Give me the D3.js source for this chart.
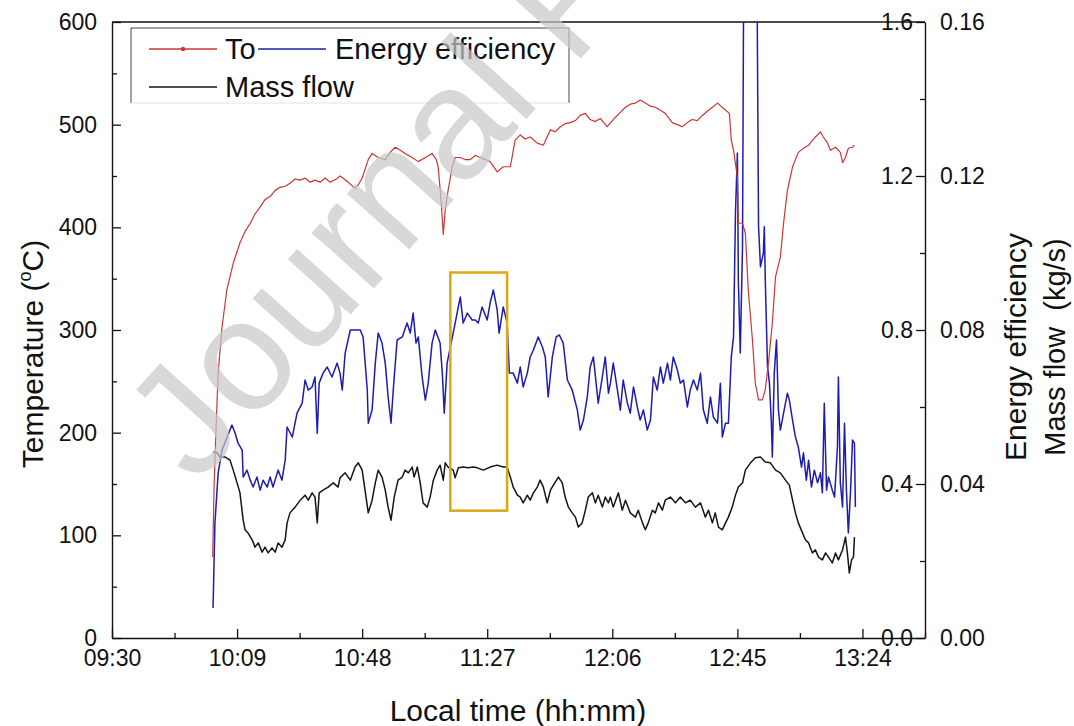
<!DOCTYPE html>
<html>
<head>
<meta charset="utf-8">
<script src="https://cdn.jsdelivr.net/npm/d3@7"></script>
<style>
  body { margin: 0; background: #fff; }
  text { font-family: "Liberation Sans", Arial, sans-serif; fill: #111; }
</style>
</head>
<body>
<svg id="chart" width="1074" height="726"></svg>
<script>
// times are minutes after 09:30
const timeTicks = ["09:30", "10:09", "10:48", "11:27", "12:06", "12:45", "13:24"];
const tempTicks = ["0", "100", "200", "300", "400", "500", "600"];
const effTicks = ["0.0", "0.4", "0.8", "1.2", "1.6"];
const massTicks = ["0.00", "0.04", "0.08", "0.12", "0.16"];

// outlet temperature To (°C)
const toTime = [31.4,31.8,32.5,33.1,34.2,35.8,37.8,39.9,41.5,43.1,
  44.6,46.2,47.7,49.3,50.9,52.4,54.0,55.5,57.1,58.7,
  60.2,61.8,63.3,64.9,66.5,68.0,70.0,71.1,72.4,73.6,
  75.8,76.9,78.0,79.9,81.1,83.0,85.2,86.7,88.3,89.9,
  91.4,93.6,95.5,97.7,99.8,101.1,101.7,102.6,103.3,103.9,
  104.8,106.1,107.0,108.6,110.1,111.7,113.3,114.8,116.4,117.9,
  120.1,122.0,124.2,125.7,127.3,128.8,130.4,132.6,134.5,136.7,
  138.2,139.8,141.3,142.9,144.5,146.0,147.6,149.1,150.7,152.3,
  154.4,156.9,158.5,160.1,161.6,163.2,164.7,166.3,167.9,169.4,
  171.0,172.5,174.7,176.3,177.8,179.4,180.9,182.5,184.1,185.6,
  187.2,188.8,190.6,192.5,193.1,193.8,195.0,195.3,196.6,197.5,
  198.4,199.7,200.6,201.6,202.8,203.7,204.7,205.9,206.9,208.4,
  209.4,210.6,212.2,214.0,215.6,217.2,219.3,220.9,221.8,223.1,
  224.0,225.6,227.1,227.8,228.7,229.6,230.9,231.5];
const toValue = [79,144,209,258,300,339,365,385,396,404,
  413,420,427,430,436,439,440,443,447,446,
  448,444,446,444,448,444,447,450,447,444,
  438,442,448,466,472,468,466,473,478,475,
  472,468,464,468,472,466,459,427,393,417,
  436,459,468,468,466,466,470,468,466,464,
  454,459,459,485,490,486,488,482,480,495,
  493,498,501,502,504,509,511,505,503,506,
  498,507,512,517,520,521,524,521,518,517,
  514,511,502,500,498,502,505,504,509,513,
  517,521,516,511,485,475,449,404,404,394,
  339,290,248,232,232,242,268,307,352,371,
  404,436,459,473,477,480,488,493,488,482,
  475,478,473,463,468,477,478,480];

// energy efficiency (-)
const effTime = [31.5,32.1,33.1,34.3,35.9,37.4,38.4,39.3,40.6,40.9,42.1,43.1,44.0,45.2,46.2,47.1,48.4,49.3,50.2,51.8,
  53.0,54.0,54.6,56.2,57.7,59.3,60.2,61.2,62.4,63.3,64.0,64.6,65.8,67.1,68.6,70.2,71.1,71.8,72.7,74.3,
  75.8,77.4,78.3,79.6,79.9,81.1,82.1,83.0,84.2,85.2,86.1,87.0,87.7,88.9,90.5,92.0,93.0,93.9,94.8,95.5,
  96.7,97.7,98.6,99.8,100.8,102.3,103.0,103.6,104.5,105.5,107.0,108.6,109.5,110.8,112.3,113.3,114.2,115.4,117.0,117.9,
  118.9,120.1,120.7,122.0,123.2,123.9,125.1,126.4,127.3,128.2,129.5,130.4,131.4,132.9,134.2,135.1,136.0,137.3,138.5,139.5,
  140.7,142.0,143.5,145.1,146.0,147.0,148.2,149.1,150.1,151.6,152.9,153.8,154.8,155.4,156.3,157.6,158.5,159.4,160.7,161.6,
  162.6,163.8,164.7,165.7,166.9,167.9,168.8,170.0,171.0,171.9,173.2,174.1,175.0,176.3,177.2,178.2,179.4,180.3,181.3,182.5,
  183.5,184.4,185.6,186.6,187.5,188.8,189.7,190.3,191.3,192.2,193.1,193.8,194.4,195.0,195.3,195.9,196.6,196.9,197.5,200.9,
  201.2,201.6,202.2,203.1,203.4,203.7,204.4,205.0,205.6,205.9,206.5,207.2,207.8,208.4,209.4,210.6,211.2,212.2,213.1,214.0,
  215.0,215.6,216.5,217.2,218.1,219.0,220.0,220.9,221.5,222.1,222.8,223.4,224.6,225.3,226.2,226.5,227.1,227.8,228.4,229.0,
  229.6,230.3,230.9,231.5,231.8];
const effValue = [0.078,0.299,0.429,0.488,0.522,0.553,0.532,0.506,0.488,0.418,0.436,0.410,0.392,0.418,0.384,0.410,0.392,0.418,0.392,0.436,
  0.410,0.462,0.548,0.522,0.584,0.610,0.670,0.644,0.652,0.678,0.532,0.662,0.688,0.704,0.678,0.714,0.688,0.644,0.740,0.800,
  0.800,0.800,0.782,0.644,0.558,0.592,0.714,0.792,0.766,0.714,0.626,0.558,0.644,0.774,0.782,0.818,0.792,0.844,0.766,0.782,
  0.678,0.618,0.662,0.766,0.800,0.766,0.688,0.584,0.714,0.756,0.818,0.886,0.818,0.844,0.826,0.826,0.818,0.860,0.826,0.870,
  0.904,0.852,0.792,0.860,0.818,0.688,0.688,0.662,0.704,0.652,0.688,0.730,0.748,0.782,0.756,0.730,0.626,0.730,0.782,0.787,
  0.766,0.670,0.644,0.592,0.540,0.566,0.626,0.704,0.730,0.610,0.678,0.730,0.636,0.662,0.714,0.644,0.592,0.670,0.610,0.584,
  0.652,0.600,0.566,0.592,0.540,0.566,0.678,0.644,0.704,0.662,0.714,0.670,0.730,0.696,0.662,0.670,0.600,0.644,0.670,0.644,
  0.688,0.592,0.558,0.626,0.574,0.558,0.662,0.522,0.558,0.558,0.730,0.782,1.104,1.260,0.930,0.740,1.016,1.60,1.90,1.90,
  1.60,1.068,0.964,1.000,1.068,0.930,0.704,0.662,0.558,0.470,0.688,0.774,0.592,0.540,0.584,0.636,0.618,0.566,0.522,0.496,
  0.444,0.481,0.410,0.462,0.392,0.436,0.403,0.429,0.377,0.610,0.384,0.418,0.384,0.366,0.496,0.678,0.403,0.340,0.558,0.384,
  0.273,0.384,0.514,0.506,0.340];

// mass flow (kg/s)
const massTime = [31.5,32.8,33.7,35.3,36.8,37.8,39.0,39.9,40.9,41.5,42.4,43.7,44.6,45.6,46.8,47.7,48.7,49.9,50.9,51.8,
  53.0,54.0,54.6,55.5,57.1,58.7,60.2,61.2,62.4,63.3,64.0,64.6,65.8,67.4,69.0,70.5,71.1,72.7,74.3,75.8,
  76.8,78.0,78.9,79.9,81.1,82.1,83.0,84.2,85.2,86.1,87.0,88.0,89.2,90.5,91.4,92.4,93.6,94.2,95.2,96.1,
  97.0,98.3,99.2,100.2,101.4,102.3,103.3,103.9,104.8,106.4,107.0,108.0,109.5,111.1,112.6,113.9,115.8,117.9,120.1,122.0,
  123.2,124.2,125.1,126.4,127.3,128.2,129.5,130.4,131.4,132.6,133.5,134.5,135.7,136.7,138.2,139.2,140.4,141.3,142.3,143.5,
  144.5,145.4,146.6,147.6,148.5,149.8,150.7,151.6,152.9,153.8,154.8,155.4,156.3,157.9,159.1,160.1,161.6,163.2,164.1,165.4,
  166.3,167.2,168.5,169.4,170.4,171.6,172.5,174.1,175.7,177.2,178.8,180.3,181.9,183.5,185.0,186.0,187.2,188.1,189.1,190.3,
  191.3,192.2,193.4,194.4,195.3,196.6,197.5,199.1,200.6,202.2,203.7,205.3,206.9,208.4,210.0,211.2,212.2,213.1,214.0,215.3,
  216.2,217.2,218.4,219.3,220.3,221.5,222.5,223.4,224.6,225.6,226.5,227.8,228.7,229.3,229.9,230.6,231.2,231.5];
const massValue = [0.0483,0.0481,0.0470,0.0470,0.0462,0.0436,0.0403,0.0377,0.0306,0.0281,0.0273,0.0255,0.0236,0.0247,0.0223,0.0236,0.0221,0.0234,0.0223,0.0247,
  0.0236,0.0255,0.0299,0.0325,0.0340,0.0358,0.0371,0.0358,0.0377,0.0366,0.0299,0.0377,0.0384,0.0392,0.0403,0.0392,0.0416,0.0429,0.0410,0.0444,
  0.0455,0.0436,0.0384,0.0325,0.0358,0.0403,0.0436,0.0418,0.0384,0.0340,0.0306,0.0366,0.0410,0.0418,0.0436,0.0429,0.0444,0.0418,0.0444,0.0403,
  0.0351,0.0340,0.0366,0.0410,0.0436,0.0449,0.0410,0.0455,0.0444,0.0436,0.0416,0.0442,0.0444,0.0442,0.0444,0.0442,0.0436,0.0444,0.0449,0.0444,
  0.0444,0.0418,0.0392,0.0371,0.0366,0.0351,0.0371,0.0358,0.0377,0.0392,0.0410,0.0392,0.0351,0.0384,0.0405,0.0418,0.0403,0.0366,0.0340,0.0325,
  0.0314,0.0288,0.0299,0.0332,0.0366,0.0377,0.0351,0.0371,0.0340,0.0366,0.0351,0.0366,0.0340,0.0377,0.0332,0.0358,0.0325,0.0314,0.0332,0.0299,
  0.0281,0.0299,0.0332,0.0325,0.0351,0.0332,0.0358,0.0366,0.0351,0.0366,0.0351,0.0358,0.0340,0.0351,0.0314,0.0332,0.0299,0.0325,0.0288,0.0281,
  0.0299,0.0314,0.0340,0.0371,0.0392,0.0403,0.0436,0.0455,0.0468,0.0470,0.0457,0.0455,0.0436,0.0429,0.0410,0.0397,0.0358,0.0325,0.0299,0.0273,
  0.0255,0.0247,0.0221,0.0229,0.0210,0.0203,0.0221,0.0210,0.0195,0.0221,0.0203,0.0229,0.0262,0.0221,0.0169,0.0203,0.0210,0.0262];

// highlighted steady period (time span, temperature-axis span)
const boxTime = [105.5, 123.2];
const boxTemp = [124, 356];

const W = 1074, H = 726;
const plot = { left: 112, right: 925, top: 22, bottom: 638 };
const FONT_TICK = 23, FONT_TITLE = 30, FONT_LEGEND = 29;

const svg = d3.select('#chart');
svg.append('rect').attr('width', W).attr('height', H).attr('fill', '#fff');

const toMin = s => { const p = s.split(':').map(Number); return p[0] * 60 + p[1] - 570; };
const toClock = v => {
  const t = Math.round(570 + v);
  return String(Math.floor(t / 60)).padStart(2, '0') + ':' + String(t % 60).padStart(2, '0');
};

const x = d3.scaleLinear().domain([0, 253.5]).range([plot.left, plot.right]);
const yT = d3.scaleLinear().domain([0, 600]).range([plot.bottom, plot.top]);
const yE = d3.scaleLinear().domain([0, 1.6]).range([plot.bottom, plot.top]);
const yM = d3.scaleLinear().domain([0, 0.16]).range([plot.bottom, plot.top]);

svg.append('defs').append('clipPath').attr('id', 'plotClip')
  .append('rect')
  .attr('x', plot.left).attr('y', plot.top)
  .attr('width', plot.right - plot.left).attr('height', plot.bottom - plot.top);

function styleAxis(g) {
  g.selectAll('.domain').attr('stroke', '#111').attr('stroke-width', 1.4);
  g.selectAll('.tick line').attr('stroke', '#111').attr('stroke-width', 1.3);
  g.selectAll('text').attr('font-size', FONT_TICK).attr('font-family', '"Liberation Sans", Arial, sans-serif').attr('fill', '#111');
}

// bottom time axis, ticks pointing in
const xMajor = timeTicks.map(toMin);
const xMinor = xMajor.map(v => v + 19.5);
svg.append('g')
  .attr('transform', `translate(0,${plot.bottom})`)
  .call(d3.axisBottom(x).tickValues(xMajor).tickFormat(toClock).tickSizeInner(-9).tickSizeOuter(0).tickPadding(12))
  .call(styleAxis);
svg.append('g')
  .attr('transform', `translate(0,${plot.bottom})`)
  .call(d3.axisBottom(x).tickValues(xMinor).tickFormat('').tickSizeInner(-5).tickSizeOuter(0))
  .call(styleAxis)
  .select('.domain').remove();

// left temperature axis
const tMajor = tempTicks.map(Number);
svg.append('g')
  .attr('transform', `translate(${plot.left},0)`)
  .call(d3.axisLeft(yT).tickValues(tMajor).tickFormat(d3.format('d')).tickSizeInner(-9).tickSizeOuter(0).tickPadding(15))
  .call(styleAxis);
svg.append('g')
  .attr('transform', `translate(${plot.left},0)`)
  .call(d3.axisLeft(yT).tickValues(tMajor.slice(1).map(v => v - 50)).tickFormat('').tickSizeInner(-5).tickSizeOuter(0))
  .call(styleAxis)
  .select('.domain').remove();

// right axis: efficiency labels inside, mass flow labels outside
const eMajor = effTicks.map(Number);
svg.append('g')
  .attr('transform', `translate(${plot.right},0)`)
  .call(d3.axisLeft(yE).tickValues(eMajor).tickFormat(d3.format('.1f')).tickSizeInner(9).tickSizeOuter(0).tickPadding(3))
  .call(styleAxis);
svg.append('g')
  .attr('transform', `translate(${plot.right},0)`)
  .call(d3.axisLeft(yE).tickValues(eMajor.slice(1).map(v => v - 0.2)).tickFormat('').tickSizeInner(5).tickSizeOuter(0))
  .call(styleAxis)
  .select('.domain').remove();
svg.append('g')
  .attr('transform', `translate(${plot.right},0)`)
  .call(d3.axisRight(yM).tickValues(massTicks.map(Number)).tickFormat(d3.format('.2f')).tickSize(0).tickPadding(15))
  .call(styleAxis)
  .select('.domain').remove();

// top frame line
svg.append('line')
  .attr('x1', plot.left).attr('x2', plot.right)
  .attr('y1', plot.top).attr('y2', plot.top)
  .attr('stroke', '#111').attr('stroke-width', 1.4);

// series
const series = [
  { time: massTime, value: massValue, y: yM, color: '#151515', width: 1.5 },
  { time: effTime, value: effValue, y: yE, color: '#1c1cb0', width: 1.5 },
  { time: toTime, value: toValue, y: yT, color: '#cf3434', width: 1.2 }
];
const lines = svg.append('g').attr('clip-path', 'url(#plotClip)');
series.forEach(s => {
  const pts = d3.zip(s.time, s.value);
  lines.append('path')
    .datum(pts)
    .attr('fill', 'none')
    .attr('stroke', s.color)
    .attr('stroke-width', s.width)
    .attr('stroke-linejoin', 'round')
    .attr('d', d3.line().x(d => x(d[0])).y(d => s.y(d[1])));
});

// highlight box
svg.append('rect')
  .attr('x', x(boxTime[0])).attr('y', yT(boxTemp[1]))
  .attr('width', x(boxTime[1]) - x(boxTime[0]))
  .attr('height', yT(boxTemp[0]) - yT(boxTemp[1]))
  .attr('fill', 'none').attr('stroke', '#d9a91a').attr('stroke-width', 2.5);

// legend
const lg = svg.append('g');
lg.append('path').attr('d', 'M131,103 V28 H569 V103').attr('fill', 'none').attr('stroke', '#444').attr('stroke-width', 1);
lg.append('line').attr('x1', 131).attr('x2', 569).attr('y1', 103).attr('y2', 103).attr('stroke', '#e4e4e4');
const legendItems = [
  { label: 'To', color: '#cf3434', x: 149, tx: 225, y: 49, dot: true },
  { label: 'Energy efficiency', color: '#1c1cb0', x: 258, tx: 335, y: 49, dot: false },
  { label: 'Mass flow', color: '#151515', x: 149, tx: 225, y: 87, dot: false }
];
legendItems.forEach(d => {
  lg.append('line').attr('x1', d.x).attr('x2', d.x + 68).attr('y1', d.y).attr('y2', d.y)
    .attr('stroke', d.color).attr('stroke-width', 1.3);
  if (d.dot) lg.append('circle').attr('cx', d.x + 34).attr('cy', d.y).attr('r', 2.2).attr('fill', d.color);
  lg.append('text').attr('x', d.tx).attr('y', d.y + 10)
    .attr('font-size', FONT_LEGEND).text(d.label);
});

// axis titles
svg.append('text').attr('x', 518).attr('y', 721).attr('text-anchor', 'middle')
  .attr('font-size', FONT_TITLE).text('Local time (hh:mm)');
const tt = svg.append('text').attr('transform', 'translate(43,354) rotate(-90)').attr('text-anchor', 'middle')
  .attr('font-size', FONT_TITLE);
tt.append('tspan').text('Temperature (');
tt.append('tspan').attr('font-size', 18).attr('dy', -12).text('o');
tt.append('tspan').attr('dy', 12).text('C)');
svg.append('text').attr('transform', 'translate(1026,347) rotate(-90)').attr('text-anchor', 'middle')
  .attr('font-size', FONT_TITLE).text('Energy efficiency');
svg.append('text').attr('transform', 'translate(1065,347) rotate(-90)').attr('text-anchor', 'middle')
  .attr('font-size', FONT_TITLE - 1).attr('xml:space', 'preserve').text('Mass flow  (kg/s)');

// watermark on top
svg.append('text')
  .attr('transform', 'translate(196,486) rotate(-48)')
  .attr('font-size', 158)
  .attr('opacity', 0.7)
  .style('fill', '#c8c8c8')
  .text('Journal Pre-proof');
</script>
</body>
</html>
